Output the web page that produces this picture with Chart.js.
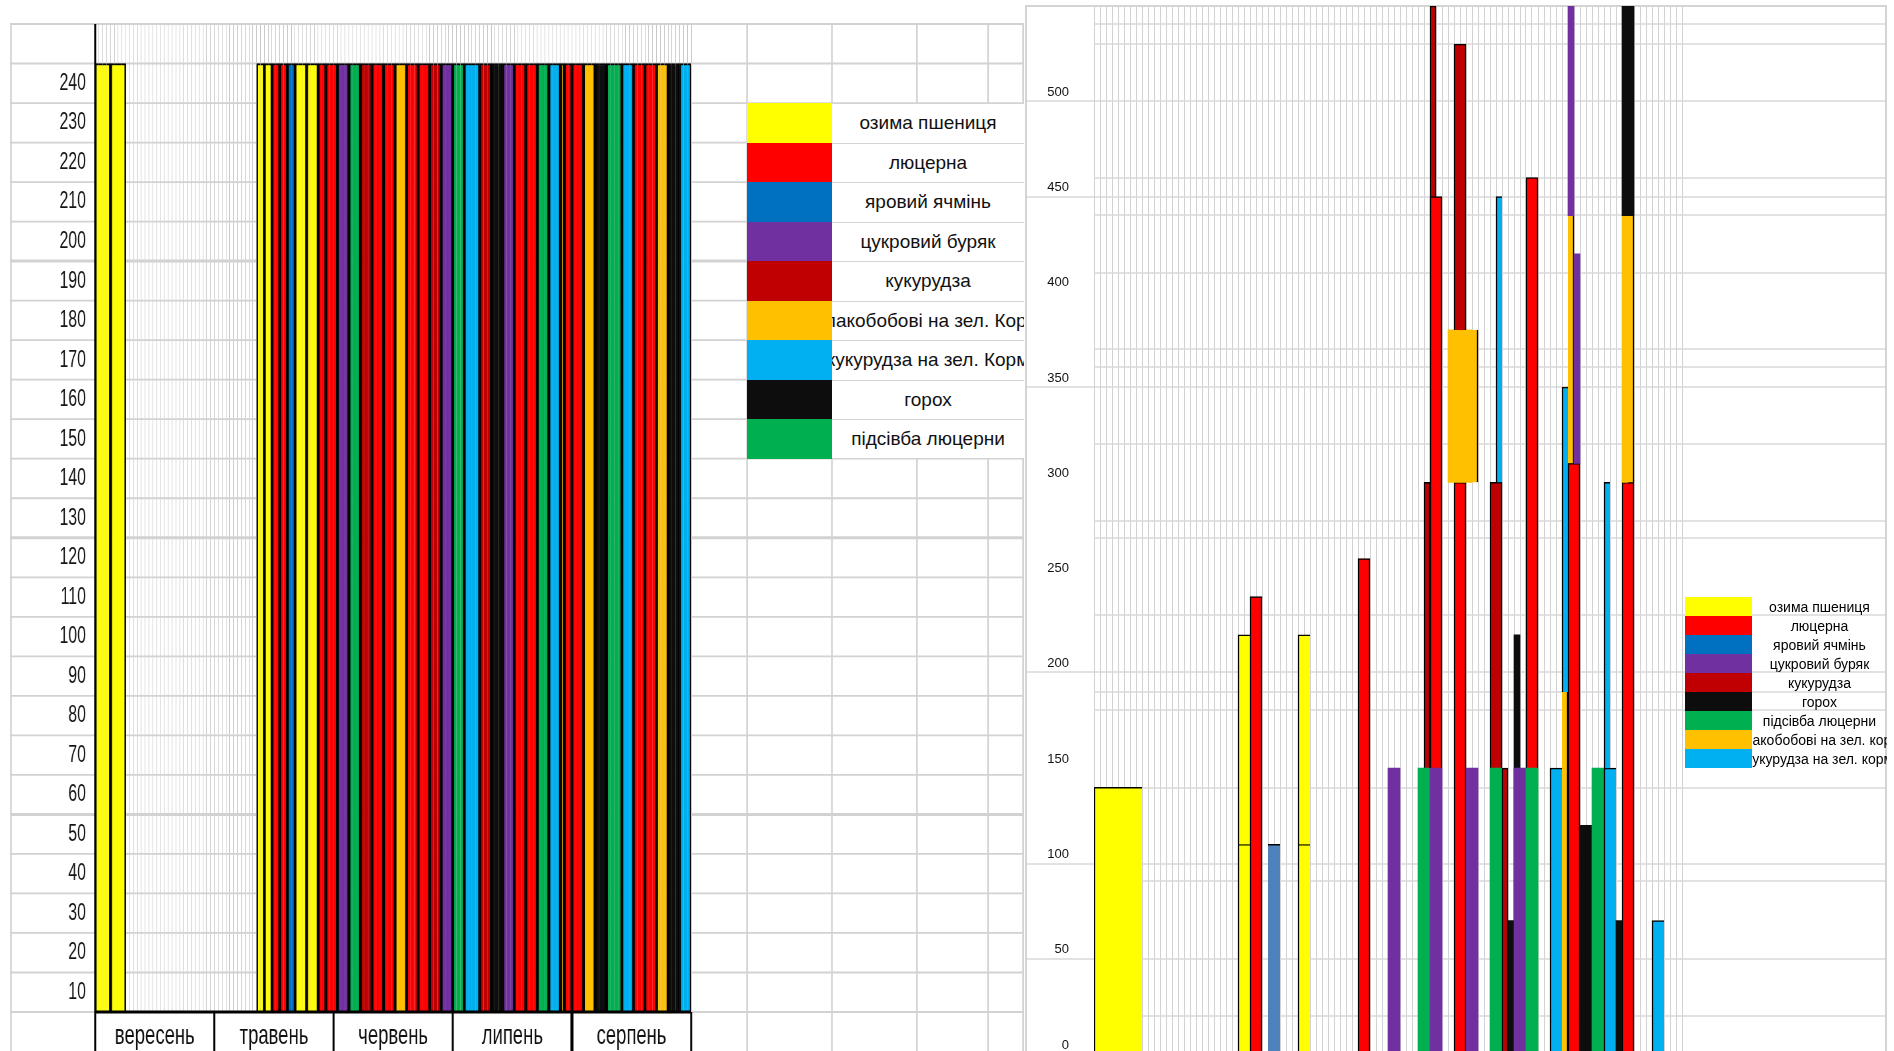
<!DOCTYPE html>
<html lang="uk">
<head>
<meta charset="utf-8">
<title>Календарний план робіт і навантаження за культурами</title>
<script src="https://cdn.jsdelivr.net/npm/chart.js@4.4.1/dist/chart.umd.min.js"></script>
<style>
  html, body { margin:0; padding:0; background:#fff; }
  body { width:1894px; height:1051px; overflow:hidden; position:relative; font-family:"Liberation Sans", Arial, sans-serif; }
  #leftWrap { position:absolute; left:10px; top:0; width:1536px; height:1060px; transform:scaleX(0.66); transform-origin:0 0; }
  #rightWrap { position:absolute; left:1024px; top:0; width:863px; height:1070px; }
  canvas { display:block; }
  .lg { position:absolute; left:0; top:0; }
  .lg .row { position:absolute; display:flex; }
  .lg .sw { flex:none; height:100%; }
  .lg .tx { flex:none; height:100%; box-sizing:border-box; display:flex; justify-content:center; align-items:center; overflow:hidden; white-space:nowrap; color:#111; }
  #legendLeft .tx { background:#fff; border-top:1.5px solid #d4d4d4; font-size:19px; }
  #legendRight .tx { font-size:14px; color:#000; }
</style>
</head>
<body>
<div id="leftWrap"><canvas id="left" width="1536" height="1060"></canvas></div>
<div id="rightWrap"><canvas id="right" width="863" height="1070"></canvas></div>
<div id="legendLeft" class="lg"></div>
<div id="legendRight" class="lg"></div>
<script>
Chart.defaults.font.family = '"Liberation Sans", Arial, sans-serif';

// ---------- crops ----------
const crops = ['озима пшениця', 'люцерна', 'яровий ячмінь', 'цукровий буряк', 'кукурудза',
               'злакобобові на зел. Корм', 'кукурудза на зел. Корм', 'горох', 'підсівба люцерни'];
const cropColors = ['#FFFF00', '#FF0000', '#0070C0', '#7030A0', '#C00000', '#FFC000', '#00B0F0', '#0D0D0D', '#00B050'];
const loadColors = ['#FFFF00', '#FF0000', '#4F81BD', '#7030A0', '#C00000', '#FFC000', '#00B0F0', '#0D0D0D', '#00B050'];

// ---------- left chart: calendar of field works ----------
const months = ['вересень', 'травень', 'червень', 'липень', 'серпень'];
const slotsPerMonth = 31;
const leftTicks = [10, 20, 30, 40, 50, 60, 70, 80, 90, 100, 110, 120, 130, 140, 150, 160, 170, 180, 190, 200, 210, 220, 230, 240];
const workCrop  = [0, 0,
  0, 0, 1, 1, 2, 0, 0, 1, 1, 3, 8, 4, 1, 1, 5, 1, 1, 4, 3, 8,
  6, 4, 7, 3, 1, 1, 8, 6, 5, 1, 1, 5, 7, 8, 6, 1, 1, 5, 7, 6];
const workStart = [0, 4,
  42, 44, 46, 48, 50, 52, 55, 58, 60, 63, 66, 69, 72, 75, 78, 81, 84, 87, 90, 93,
  96, 100, 103, 106, 109, 112, 115, 118, 121, 122, 124, 127, 130, 133, 137, 140, 143, 146, 149, 152];
const workDays  = [4, 4,
  2, 2, 2, 2, 2, 3, 3, 2, 3, 3, 3, 3, 3, 3, 3, 3, 3, 3, 3, 3,
  4, 3, 3, 3, 3, 3, 3, 3, 1, 2, 3, 3, 3, 4, 3, 3, 3, 3, 3, 3];
const workHours = [240, 240,
  240, 240, 240, 240, 240, 240, 240, 240, 240, 240, 240, 240, 240, 240, 240, 240, 240, 240, 240, 240,
  240, 240, 240, 240, 240, 240, 240, 240, 240, 240, 240, 240, 240, 240, 240, 240, 240, 240, 240, 240];

// ---------- right chart: load by periods ----------
const loadTicks = [0, 50, 100, 150, 200, 250, 300, 350, 400, 450, 500];
const loadCrop  = [0, 0, 0, 1, 2, 0, 0, 1, 3, 4, 8, 4, 1, 3, 1, 5, 4, 3, 4, 6, 8, 4, 7, 7, 3, 1, 8, 6, 5, 6, 1, 5, 3, 3, 7, 8, 6, 6, 7, 1, 5, 7, 6];
const loadStart = [0, 24, 24, 26, 29, 34, 34, 44, 49, 55, 54, 56, 56, 56, 60, 59, 60, 62, 66, 67, 66, 68, 69, 70, 70, 72, 72, 76, 78, 78, 79, 79, 80, 79, 81, 83, 85, 85, 87, 88, 88, 88, 93];
const loadSlots = [8, 2, 2, 2, 2, 2, 2, 2, 2, 1, 2, 1, 2, 2, 2, 5, 2, 2, 2, 1, 2, 1, 1, 1, 2, 2, 2, 2, 1, 1, 2, 1, 1, 1, 2, 2, 2, 1, 1, 2, 2, 2, 2];
const loadLow   = [0, 0, 110, 0, 0, 0, 110, 0, 0, 150, 0, 150, 150, 0, 0, 300, 380, 0, 150, 300, 0, 0, 0, 0, 0, 150, 0, 0, 0, 190, 0, 310, 310, 440, 0, 0, 0, 150, 0, 0, 300, 440, 0];
const loadHigh  = [140, 110, 220, 240, 110, 110, 220, 260, 150, 300, 150, 550, 450, 150, 300, 380, 530, 150, 300, 450, 150, 150, 70, 220, 150, 460, 150, 150, 190, 350, 310, 440, 420, 550, 120, 150, 150, 300, 70, 300, 440, 550, 70];
const legendRightOrder = [0, 1, 2, 3, 4, 7, 8, 5, 6];

// ---------- layout of the sheet ----------
const squeeze = 0.66, leftPanelX = 10;
const sheetColumns = [11, 747, 832, 917, 988, 1023];
const heavyRows = [50, 120, 190];
const rightSlots = 132, rightGridSlots = 99;
const rightRowsPlot = [24, 44, 178, 215, 273, 349, 367, 444, 521, 538, 615, 692, 710, 788, 881, 1016];
const rightRowsFull = [101, 197, 387, 672, 864, 959];
// border sides per crop on the load chart: [top, right, left]
const loadBorders = [[1, 0, 1], [1, 1, 1], [1, 0, 0], [0, 0, 0], [1, 1, 1], [0, 1, 0], [1, 0, 1], [0, 0, 0], [0, 0, 0]];

// ---------- datasets ----------
const leftSlots = months.length * slotsPerMonth;
const leftLabels = Array.from({length: leftSlots}, (_, i) => months[Math.floor(i / slotsPerMonth)] + ' ' + (i % slotsPerMonth + 1));

const leftDatasets = workCrop.map((c, i) => {
  const data = new Array(leftSlots).fill(null);
  for (let d = 0; d < workDays[i]; d++) data[workStart[i] + d] = workHours[i];
  const first = workStart[i], last = workStart[i] + workDays[i] - 1;
  return {
    label: crops[c], data,
    backgroundColor: cropColors[c], borderColor: '#000',
    borderWidth: ctx => ({ top: 2, bottom: 0, left: ctx.dataIndex === first ? 2.5 : 0, right: ctx.dataIndex === last ? 2.5 : 0 }),
    borderSkipped: false, grouped: false, barPercentage: 1, categoryPercentage: 1
  };
});

const periods = Array.from({length: rightSlots}, (_, i) => String(i + 1));
const rightDatasets = loadCrop.map((c, i) => {
  const data = new Array(rightSlots).fill(null);
  for (let d = 0; d < loadSlots[i]; d++) data[loadStart[i] + d] = [loadLow[i], loadHigh[i]];
  const first = loadStart[i], last = loadStart[i] + loadSlots[i] - 1;
  const [bt, br, bl] = loadBorders[c];
  return {
    label: crops[c], data, order: loadCrop.length - i,
    backgroundColor: loadColors[c], borderColor: '#000',
    borderWidth: ctx => ({ top: bt * 1.5, bottom: 0, left: ctx.dataIndex === first ? bl * 1.5 : 0, right: ctx.dataIndex === last ? br * 1.5 : 0 }),
    borderSkipped: false, grouped: false, barPercentage: 1, categoryPercentage: 1
  };
});

// ---------- sheet drawing plugins ----------
const leftSheet = {
  id: 'leftSheet',
  beforeDatasetsDraw(chart) {
    const {ctx, scales: {y}} = chart;
    const W = chart.width, H = chart.height;
    const top = y.getPixelForValue(250);
    ctx.save();
    ctx.strokeStyle = '#d2d2d2';
    for (let v = 0; v <= 250; v += 10) {
      const py = y.getPixelForValue(v);
      ctx.lineWidth = heavyRows.includes(v) ? 3 : 1.8;
      ctx.beginPath(); ctx.moveTo(0, py); ctx.lineTo(W, py); ctx.stroke();
    }
    ctx.lineWidth = 2.5;
    sheetColumns.forEach(cx => {
      const px = (cx - leftPanelX) / squeeze;
      ctx.beginPath(); ctx.moveTo(px, top); ctx.lineTo(px, H); ctx.stroke();
    });
    ctx.restore();
  },
  afterDatasetsDraw(chart) {
    const {ctx, chartArea: a, scales: {x}} = chart;
    const H = chart.height;
    ctx.save();
    ctx.strokeStyle = '#000';
    ctx.lineWidth = 3;
    ctx.beginPath(); ctx.moveTo(a.left, a.top); ctx.lineTo(a.left, H); ctx.stroke();
    ctx.beginPath(); ctx.moveTo(a.left, a.bottom); ctx.lineTo(a.right, a.bottom); ctx.stroke();
    const half = (x.getPixelForValue(1) - x.getPixelForValue(0)) / 2;
    for (let m = 1; m <= months.length; m++) {
      const px = x.getPixelForValue(m * slotsPerMonth - 1) + half;
      ctx.lineWidth = m === 4 ? 4.5 : 3;
      ctx.beginPath(); ctx.moveTo(px, a.bottom); ctx.lineTo(px, H); ctx.stroke();
    }
    ctx.restore();
  }
};

const rightSheet = {
  id: 'rightSheet',
  beforeDatasetsDraw(chart) {
    const {ctx, chartArea: a} = chart;
    const W = chart.width, H = chart.height;
    ctx.save();
    ctx.strokeStyle = '#d8d8d8';
    ctx.lineWidth = 1.5;
    rightRowsPlot.forEach(py => { ctx.beginPath(); ctx.moveTo(a.left, py); ctx.lineTo(W, py); ctx.stroke(); });
    rightRowsFull.forEach(py => { ctx.beginPath(); ctx.moveTo(2, py); ctx.lineTo(W, py); ctx.stroke(); });
    ctx.lineWidth = 2;
    ctx.strokeStyle = '#d4d4d4';
    ctx.beginPath();
    ctx.moveTo(2, H); ctx.lineTo(2, a.top); ctx.lineTo(W - 1, a.top); ctx.lineTo(W - 1, H);
    ctx.stroke();
    ctx.restore();
  }
};

// ---------- charts ----------
const leftChart = new Chart(document.getElementById('left'), {
  type: 'bar',
  data: { labels: leftLabels, datasets: leftDatasets },
  options: {
    responsive: false, animation: false, devicePixelRatio: 1,
    plugins: { legend: { display: false }, tooltip: { enabled: false } },
    layout: { padding: { left: 0, right: 504, top: 24, bottom: 0 } },
    scales: {
      x: {
        type: 'category', offset: true,
        grid: { color: '#c8c8c8', lineWidth: 1, drawTicks: false, offset: true },
        border: { display: false },
        ticks: {
          autoSkip: false, maxRotation: 0, minRotation: 0, padding: 7, color: '#111', font: { size: 28 },
          callback: (v, i) => i % slotsPerMonth === 15 ? months[Math.floor(i / slotsPerMonth)] : ''
        },
        afterFit: s => { s.height = 48; }
      },
      y: {
        min: 0, max: 250,
        grid: { display: false }, border: { display: false },
        ticks: {
          stepSize: 5, autoSkip: false, padding: 6, color: '#151515', font: { size: 24 },
          callback: v => (v % 10 === 5 && leftTicks.includes(v + 5)) ? String(v + 5) : ''
        },
        afterFit: s => { s.width = 129; s.paddingTop = 0; s.paddingBottom = 0; }
      }
    }
  },
  plugins: [leftSheet]
});

new Chart(document.getElementById('right'), {
  type: 'bar',
  data: { labels: periods, datasets: rightDatasets },
  options: {
    responsive: false, animation: false, devicePixelRatio: 1,
    plugins: { legend: { display: false }, tooltip: { enabled: false } },
    layout: { padding: { left: 0, right: 1, top: 6, bottom: 0 } },
    scales: {
      x: {
        type: 'category', offset: true,
        grid: { offset: true, drawTicks: false, lineWidth: 1, color: c => c.index < rightGridSlots ? '#d2d2d2' : 'rgba(0,0,0,0)' },
        border: { display: false },
        ticks: { display: false },
        afterFit: s => { s.height = 16; s.paddingLeft = 0; s.paddingRight = 0; }
      },
      y: {
        min: 0, max: 550,
        grid: { display: false }, border: { display: false },
        ticks: {
          stepSize: 50, padding: 17, labelOffset: -9, color: '#111', font: { size: 13 },
          callback: v => loadTicks.includes(v) ? String(v) : null
        },
        afterFit: s => { s.width = 70; s.paddingTop = 0; s.paddingBottom = 0; }
      }
    }
  },
  plugins: [rightSheet]
});

// ---------- legends drawn as sheet cells ----------
(function buildLegends() {
  const yL = leftChart.scales.y;
  const boxL = document.getElementById('legendLeft');
  crops.forEach((name, i) => {
    const t = yL.getPixelForValue(230 - 10 * i), b = yL.getPixelForValue(220 - 10 * i);
    const row = document.createElement('div');
    row.className = 'row';
    row.style.left = '747px'; row.style.top = t + 'px'; row.style.height = (b - t) + 'px';
    const sw = document.createElement('div'); sw.className = 'sw'; sw.style.width = '85px'; sw.style.background = cropColors[i];
    const tx = document.createElement('div'); tx.className = 'tx'; tx.style.width = '192px';
    const span = document.createElement('span'); span.textContent = name; tx.appendChild(span);
    if (i === crops.length - 1) tx.style.borderBottom = '1.5px solid #d4d4d4';
    row.appendChild(sw); row.appendChild(tx); boxL.appendChild(row);
  });

  const boxR = document.getElementById('legendRight');
  legendRightOrder.forEach((c, i) => {
    const row = document.createElement('div');
    row.className = 'row';
    row.style.left = '1685px'; row.style.top = (597 + 19 * i) + 'px'; row.style.height = '19px';
    const sw = document.createElement('div'); sw.className = 'sw'; sw.style.width = '67px'; sw.style.background = cropColors[c];
    const tx = document.createElement('div'); tx.className = 'tx'; tx.style.width = '135px';
    const span = document.createElement('span'); span.textContent = crops[c].replace('Корм', 'корм'); tx.appendChild(span);
    row.appendChild(sw); row.appendChild(tx); boxR.appendChild(row);
  });
})();
</script>
</body>
</html>
